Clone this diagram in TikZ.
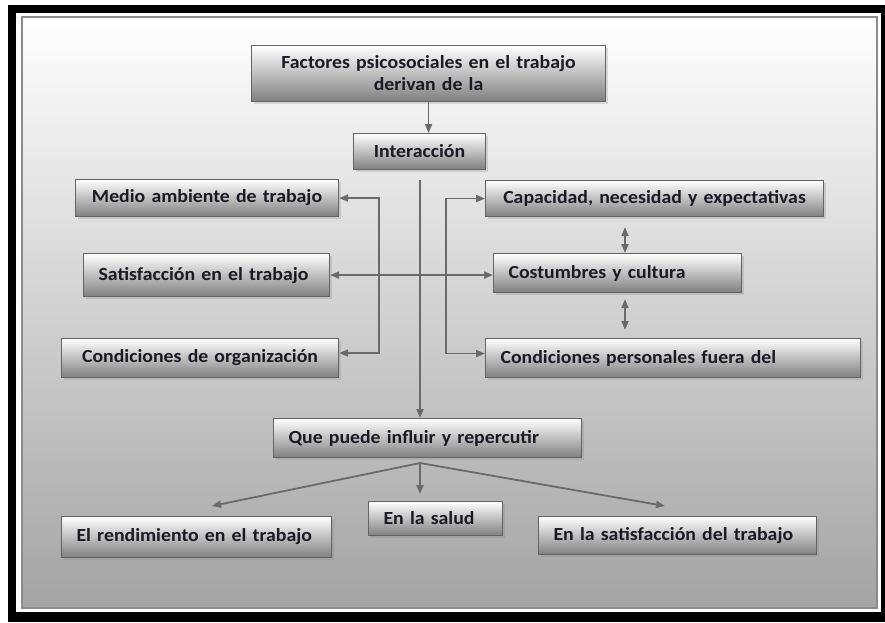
\documentclass[tikz,border=0pt]{standalone}
\usepackage{fontspec}
\setmainfont[FakeStretch=1.07]{Carlito}
\usetikzlibrary{arrows.meta,shadows,calc}
\definecolor{txt}{HTML}{1A1A24}
\definecolor{ln}{HTML}{6A6A6A}
\definecolor{bd}{HTML}{646464}
\tikzset{
  box/.style={draw=bd, line width=1.1pt, top color=white, middle color=black!18, bottom color=black!50,
    anchor=north west, inner xsep=15pt, inner ysep=0pt, text=txt,
    font=\bfseries\fontsize{18.5}{22}\selectfont,
    drop shadow={shadow xshift=2pt, shadow yshift=-2pt, opacity=0.25}},
  lbox/.style={box, align=left},
  cbox/.style={box, align=center, inner xsep=5pt},
  conn/.style={draw=ln, line width=1.8pt, -{Triangle[length=9pt,width=7pt]}},
  conn2/.style={draw=ln, line width=1.8pt, {Triangle[length=9pt,width=7pt]}-{Triangle[length=9pt,width=7pt]}},
}
\begin{document}
\begin{tikzpicture}[x=1pt,y=-1pt]
\useasboundingbox (0,0) rectangle (885,622);
% frame
\fill[white] (0,0) rectangle (885,622);
\fill[black] (8,5) rectangle (885,622);
\fill[white] (16,13) rectangle (881,612);
\shade[top color=white, bottom color=black!36] (22,17) rectangle (877,608);
\draw[black!45, line width=1.2pt] (22,17) rectangle (877,608);
% boxes
\node[cbox, text width=344pt, minimum height=56pt] (f) at (251,45) {Factores psicosociales en el trabajo\\derivan de la};
\node[cbox, text width=122pt, minimum height=36pt] (i) at (353,133) {Interacción};
\node[cbox, text width=253pt, minimum height=37pt] (m) at (75,179) {Medio ambiente de trabajo};
\node[lbox, text width=216pt, minimum height=43pt] (s) at (83,253) {\mbox{Satisfacción en el trabajo}};
\node[cbox, text width=267pt, minimum height=39pt] (co) at (61,338) {Condiciones de organización};
\node[cbox, text width=328pt, minimum height=36pt] (ca) at (485,180) {Capacidad, necesidad y expectativas};
\node[lbox, text width=218pt, minimum height=39pt] (cu) at (493,253) {Costumbres y cultura};
\node[lbox, text width=345pt, minimum height=39pt] (cp) at (485,338) {Condiciones personales fuera del};
\node[lbox, text width=278pt, minimum height=39pt] (q) at (273,418) {Que puede influir y repercutir};
\node[lbox, text width=240pt, minimum height=41pt] (er) at (61,516) {El rendimiento en el trabajo};
\node[lbox, text width=104pt, minimum height=34pt] (sa) at (368,501) {En la salud};
\node[lbox, text width=248pt, minimum height=38pt] (es) at (538,516) {\mbox{En la satisfacción del trabajo}};
% helper coordinates
\coordinate (v0) at (420,180);
\coordinate (lb) at (379,0);
\coordinate (rb) at (446,0);
\coordinate (dx) at (625,0);
\coordinate (sp) at (420,463);
\coordinate (tl) at (212,506);
\coordinate (tm) at (420,494);
\coordinate (tr) at (665,506);
% connectors
\draw[conn] (f.south) -- (f.south |- i.north);
\draw[conn] (v0) -- (v0 |- q.north);
\draw[conn2] (m.east) -- (m.east -| lb) -- ($(co.east -| lb)+(0,-5)$) -- ($(co.east)+(0,-5)$);
\draw[conn2] (ca.west) -- (ca.west -| rb) -- ($(cp.west -| rb)+(0,-4.5)$) -- ($(cp.west)+(0,-4.5)$);
\draw[conn2] (s.east) -- (s.east -| cu.west);
\draw[conn2] ($(ca.south -| dx)+(0,10)$) -- (cu.north -| dx);
\draw[conn2] ($(cu.south -| dx)+(0,6)$) -- ($(cp.north -| dx)+(0,-8)$);
\draw[conn] (sp) -- (tl);
\draw[conn] (sp) -- (tm);
\draw[conn] (sp) -- (tr);
\end{tikzpicture}
\end{document}
